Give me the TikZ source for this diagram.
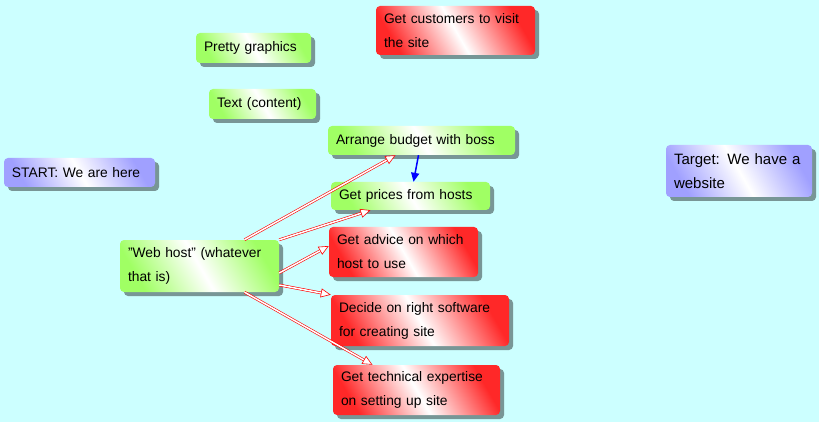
\documentclass[tikz,border=0pt]{standalone}
\usepackage{fontspec}
\setmainfont{Liberation Sans}
\usetikzlibrary{arrows.meta}
\definecolor{bg}{RGB}{204,255,255}
\definecolor{gr}{RGB}{160,255,100}
\definecolor{rd}{RGB}{255,40,40}
\definecolor{bl}{RGB}{160,160,255}
\definecolor{sh}{RGB}{120,150,150}
\begin{document}
\begin{tikzpicture}[x=1pt,y=-1pt,
 box/.style={rounded corners=4pt, inner xsep=8pt, inner ysep=2pt, align=left,
   font=\fontsize{13.8}{24}\selectfont, anchor=center,
   preaction={fill=sh, transform canvas={shift={(4,4)}}}},
 grn/.style={box, top color=gr, bottom color=gr, middle color=white, shading angle=-60},
 red/.style={box, top color=rd, bottom color=rd, middle color=white, shading angle=-60},
 blu/.style={box, top color=bl, bottom color=bl, middle color=white, shading angle=-60},
 rarr/.style={draw=red, double=white, double distance=1.5pt, line width=0.6pt,
   -{Triangle[open,fill=white,length=10pt,width=9pt]}},
 barr/.style={draw=blue, line width=1.5pt, -{Triangle[length=9pt,width=8pt]}}]
\fill[bg] (0,0) rectangle (819,422);
\useasboundingbox (0,0) rectangle (819,422);
\node[red, minimum width=159pt, minimum height=49pt, text width=143pt] (cust) at (455.5,30.5) {Get customers to visit\\the site};
\node[grn, minimum width=115pt, minimum height=30pt, text width=99pt] (pretty) at (253.5,48) {Pretty graphics};
\node[grn, minimum width=107pt, minimum height=30pt, text width=91pt] (text) at (262.5,104) {Text (content)};
\node[grn, minimum width=187pt, minimum height=29pt, text width=171pt] (budget) at (421.5,140.5) {Arrange budget with boss};
\node[blu, minimum width=151pt, minimum height=29pt, text width=135pt] (start) at (79.5,172.5) {START: We are here};
\node[blu, minimum width=144pt, minimum height=52pt, text width=130pt, font=\fontsize{15}{24}\selectfont] (target) at (739,171) {Target: We have a\\website};
\node[grn, minimum width=159pt, minimum height=28pt, text width=143pt] (prices) at (410.5,196) {Get prices from hosts};
\node[grn, minimum width=159pt, minimum height=52pt, text width=143pt] (web) at (199.5,266) {"Web host" (whatever\\that is)};
\node[red, minimum width=149pt, minimum height=50pt, text width=133pt] (advice) at (403.5,252) {Get advice on which\\host to use};
\node[red, minimum width=178pt, minimum height=51pt, text width=162pt] (decide) at (420,320.5) {Decide on right software\\for creating site};
\node[red, minimum width=167pt, minimum height=50pt, text width=151pt] (tech) at (416.5,390) {Get technical expertise\\on setting up site};
\draw[rarr] ([xshift=45pt]web.north) -- ([xshift=-26pt]budget.south);
\draw[rarr] (web.north east) -- ([xshift=-40pt]prices.south);
\draw[rarr] ([yshift=-7pt]web.east) -- ([yshift=6pt]advice.west);
\draw[rarr] ([yshift=-19pt]web.east) -- (decide.north west);
\draw[rarr] ([xshift=45pt]web.south) -- ([xshift=-44pt]tech.north);
\draw[barr] ([xshift=-3pt]budget.south) -- ([xshift=3pt]prices.north);
\end{tikzpicture}
\end{document}
